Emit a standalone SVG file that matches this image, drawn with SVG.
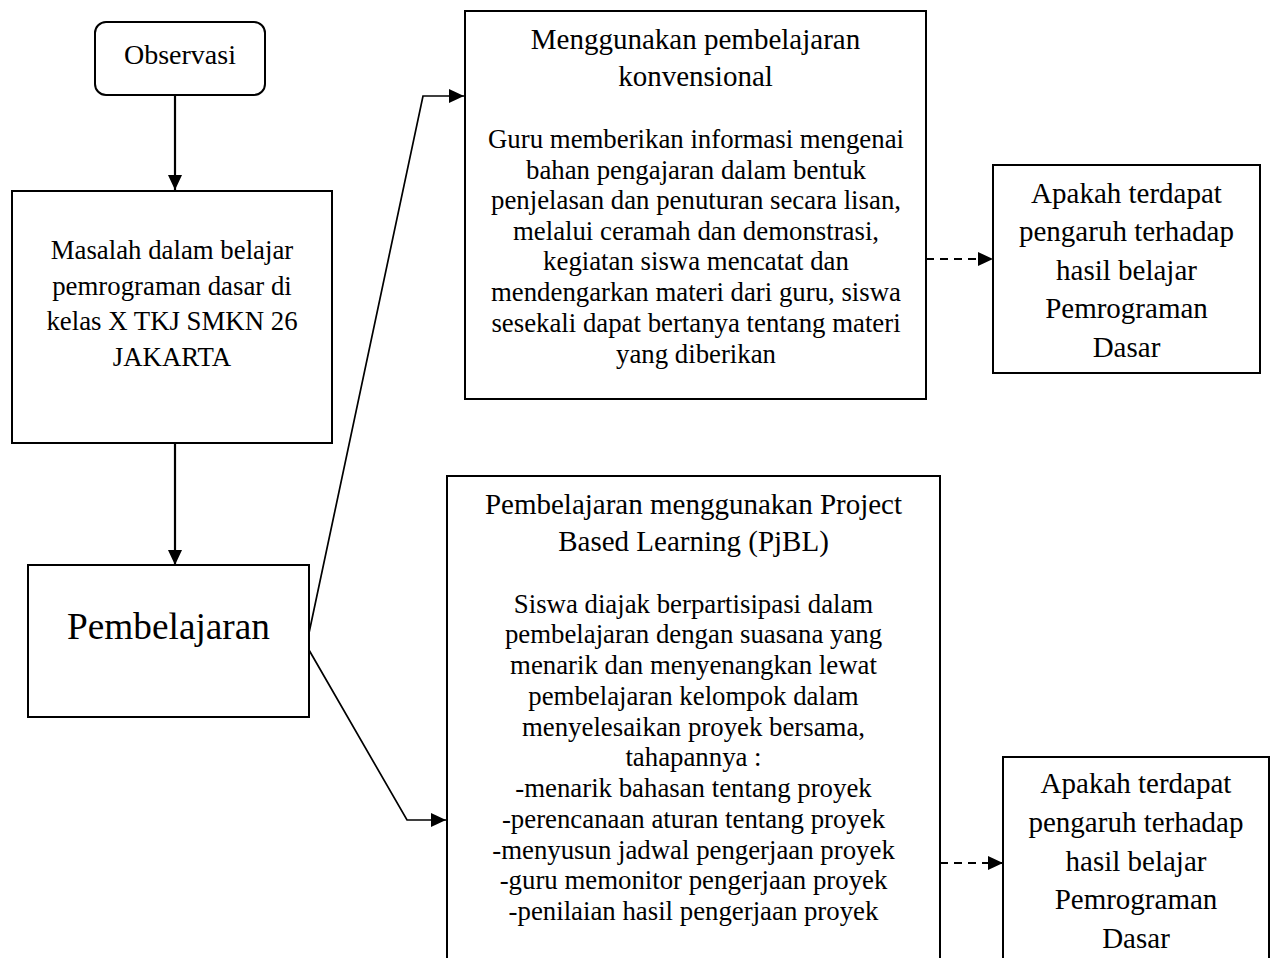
<svg xmlns="http://www.w3.org/2000/svg" width="1275" height="958" viewBox="0 0 1275 958">
<style>
.box{fill:#fff;stroke:#000;stroke-width:2}
.t{font-family:"Liberation Serif","Times New Roman",serif;fill:#000;text-anchor:middle}
.s27{font-size:26.8px}
.s29{font-size:29px}
.ln{fill:none;stroke:#000;stroke-width:2.2}
.thin{fill:none;stroke:#000;stroke-width:1.7}
.dash{fill:none;stroke:#000;stroke-width:2.2;stroke-dasharray:8 6}
</style>
<defs>
<marker id="ah" markerWidth="15" markerHeight="14" refX="15" refY="7" orient="auto" markerUnits="userSpaceOnUse">
<path d="M0,0 L15,7 L0,14 Z" fill="#000"/>
</marker>
</defs>
<g id="connectors">
<line class="ln" x1="175" y1="95" x2="175" y2="190" marker-end="url(#ah)"/>
<line class="ln" x1="175" y1="443" x2="175" y2="565" marker-end="url(#ah)"/>
<polyline class="thin" points="309,633 423,96 464,96" marker-end="url(#ah)"/>
<polyline class="thin" points="309,650 407,820 446,820" marker-end="url(#ah)"/>
<line class="dash" x1="926" y1="259" x2="993" y2="259" marker-end="url(#ah)"/>
<line class="dash" x1="940" y1="863" x2="1003" y2="863" marker-end="url(#ah)"/>
</g>
<g id="observasi">
<rect class="box" x="95" y="22" width="170" height="73" rx="11"/>
<text class="t" x="180" y="64" font-size="28">Observasi</text>
</g>
<g id="masalah">
<rect class="box" x="12" y="191" width="320" height="252"/>
<text class="t s27" x="172"><tspan x="172" y="259">Masalah dalam belajar</tspan><tspan x="172" y="294.5">pemrograman dasar di</tspan><tspan x="172" y="330">kelas X TKJ SMKN 26</tspan><tspan x="172" y="365.5">JAKARTA</tspan></text>
</g>
<g id="pembelajaran">
<rect class="box" x="28" y="565" width="281" height="152"/>
<text class="t" x="168.5" y="639" font-size="37.3">Pembelajaran</text>
</g>
<g id="konvensional">
<rect class="box" x="465" y="11" width="461" height="388"/>
<text class="t s29"><tspan x="695.5" y="49">Menggunakan pembelajaran</tspan><tspan x="695.5" y="86">konvensional</tspan></text>
<text class="t s27"><tspan x="696" y="148">Guru memberikan informasi mengenai</tspan><tspan x="696" y="179">bahan pengajaran dalam bentuk</tspan><tspan x="696" y="209">penjelasan dan penuturan secara lisan,</tspan><tspan x="696" y="240">melalui ceramah dan demonstrasi,</tspan><tspan x="696" y="270">kegiatan siswa mencatat dan</tspan><tspan x="696" y="301">mendengarkan materi dari guru, siswa</tspan><tspan x="696" y="332">sesekali dapat bertanya tentang materi</tspan><tspan x="696" y="363">yang diberikan</tspan></text>
</g>
<g id="apakah1">
<rect class="box" x="993" y="165" width="267" height="208"/>
<text class="t s29"><tspan x="1126.5" y="203">Apakah terdapat</tspan><tspan x="1126.5" y="241">pengaruh terhadap</tspan><tspan x="1126.5" y="280">hasil belajar</tspan><tspan x="1126.5" y="318">Pemrograman</tspan><tspan x="1126.5" y="357">Dasar</tspan></text>
</g>
<g id="pjbl">
<path class="box" d="M447,970 L447,476 L940,476 L940,970"/>
<text class="t s29"><tspan x="693.5" y="514">Pembelajaran menggunakan Project</tspan><tspan x="693.5" y="551">Based Learning (PjBL)</tspan></text>
<text class="t s27"><tspan x="693.5" y="613">Siswa diajak berpartisipasi dalam</tspan><tspan x="693.5" y="643">pembelajaran dengan suasana yang</tspan><tspan x="693.5" y="674">menarik dan menyenangkan lewat</tspan><tspan x="693.5" y="705">pembelajaran kelompok dalam</tspan><tspan x="693.5" y="736">menyelesaikan proyek bersama,</tspan><tspan x="693.5" y="766">tahapannya :</tspan><tspan x="693.5" y="797">-menarik bahasan tentang proyek</tspan><tspan x="693.5" y="828">-perencanaan aturan tentang proyek</tspan><tspan x="693.5" y="859">-menyusun jadwal pengerjaan proyek</tspan><tspan x="693.5" y="889">-guru memonitor pengerjaan proyek</tspan><tspan x="693.5" y="920">-penilaian hasil pengerjaan proyek</tspan></text>
</g>
<g id="apakah2">
<path class="box" d="M1003,970 L1003,757 L1269,757 L1269,970"/>
<text class="t s29"><tspan x="1136" y="793">Apakah terdapat</tspan><tspan x="1136" y="832">pengaruh terhadap</tspan><tspan x="1136" y="871">hasil belajar</tspan><tspan x="1136" y="909">Pemrograman</tspan><tspan x="1136" y="948">Dasar</tspan></text>
</g>
</svg>
